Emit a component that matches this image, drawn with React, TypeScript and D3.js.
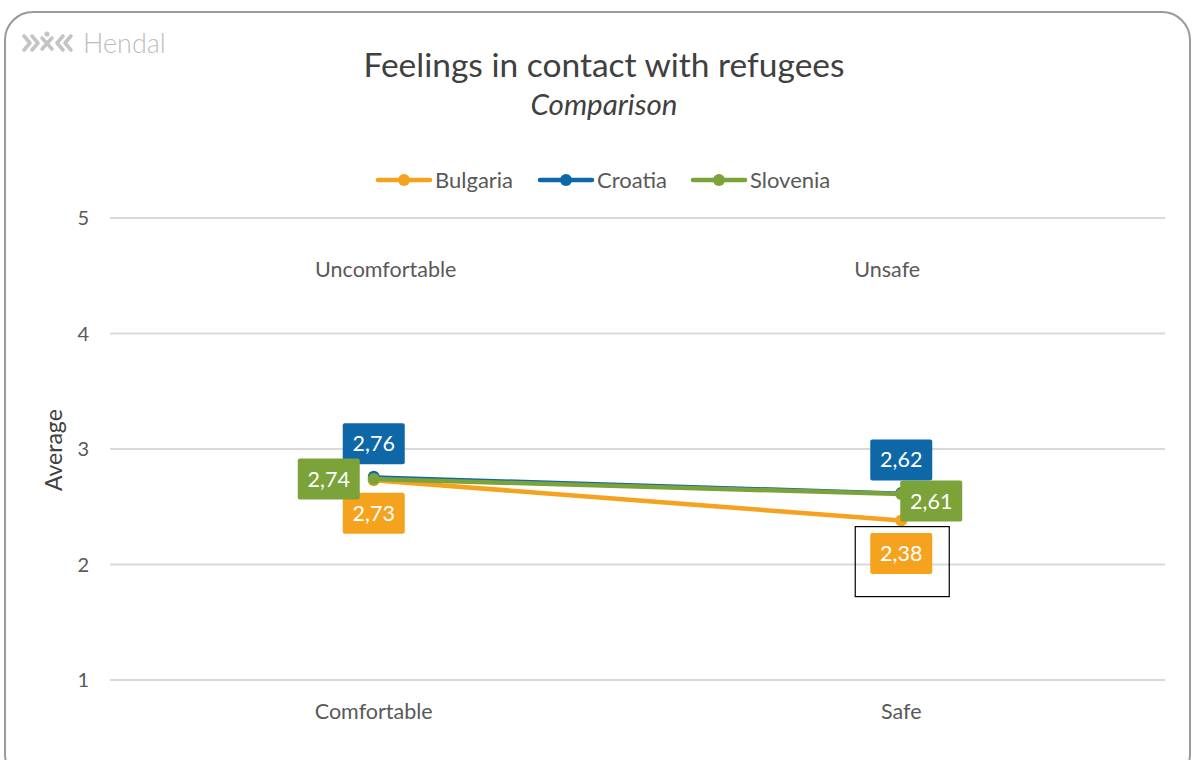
import React from "react";
import * as d3 from "d3";

const categories = ["Comfortable", "Safe"];
const oppositeLabels = ["Uncomfortable", "Unsafe"];
const seriesNames = ["Bulgaria", "Croatia", "Slovenia"];
const bulgaria = [2.73, 2.38];
const croatia = [2.76, 2.62];
const slovenia = [2.74, 2.61];
const yTicks = [1, 2, 3, 4, 5];

const colors: Record<string, string> = {
  Bulgaria: "#F5A31E",
  Croatia: "#0E67A6",
  Slovenia: "#7CA23A",
};
const widths: Record<string, number> = { Bulgaria: 4.5, Croatia: 3, Slovenia: 4.5 };

// label placement per series per category: [dx, dy]
const labelPos: Record<string, [number, number][]> = {
  Bulgaria: [[0, 33], [0, 33]],
  Croatia: [[0, -33], [0, -33]],
  Slovenia: [[-45, 0], [30, 7]],
};

const FONT = "Lato, 'Open Sans', sans-serif";

export default function App() {
  const W = 1192, H = 760;
  const x = d3.scaleBand().domain(categories).range([110, 1165]);
  const y = d3.scaleLinear().domain([1, 5]).range([680, 218]);
  const cx = (c: string) => (x(c) as number) + x.bandwidth() / 2;
  const data: Record<string, number[]> = { Bulgaria: bulgaria, Croatia: croatia, Slovenia: slovenia };
  const line = d3.line<number>().x((_, i) => cx(categories[i])).y((v) => y(v));
  const fmt = (v: number) => v.toFixed(2).replace(".", ",");

  const legendX = [378, 540, 693];
  const drawOrder = ["Croatia", "Bulgaria", "Slovenia"];

  return (
    <svg width={W} height={H} style={{ position: "absolute", left: 0, top: 0, background: "#fff" }}>
      <rect x={5} y={12} width={1185} height={770} rx={28} ry={28} fill="#fff" stroke="#9a9a9a" strokeWidth={2} />
      {/* logo */}
      <g fill="none" stroke="#c4c4c4" strokeWidth={3.6} strokeLinecap="round" strokeLinejoin="round">
        <path d="M24 36 L30 43 L24 50" />
        <path d="M32 36 L38 43 L32 50" />
        <path d="M42 38 L52 49 M52 38 L42 49" />
        <path d="M63 36 L57 43 L63 50" />
        <path d="M71 36 L65 43 L71 50" />
      </g>
      <circle cx={47} cy={34} r={2.6} fill="#c4c4c4" />
      <text x={83} y={53} fontFamily={FONT} fontSize={27} fontWeight={300} fill="#bdbdbd">Hendal</text>

      <text x={604} y={77} textAnchor="middle" fontFamily={FONT} fontSize={33.5} fill="#404040">
        Feelings in contact with refugees
      </text>
      <text x={604} y={115} textAnchor="middle" fontFamily={FONT} fontSize={29.5} fontStyle="italic" fill="#404040">
        Comparison
      </text>

      {/* legend */}
      {seriesNames.map((s, i) => (
        <g key={s}>
          <line x1={legendX[i]} x2={legendX[i] + 52} y1={180} y2={180} stroke={colors[s]} strokeWidth={4.5} strokeLinecap="round" />
          <circle cx={legendX[i] + 26} cy={180} r={6} fill={colors[s]} />
          <text x={legendX[i] + 57} y={187.5} fontFamily={FONT} fontSize={22} fill="#595959">{s}</text>
        </g>
      ))}

      {/* grid */}
      {yTicks.map((t) => (
        <g key={t}>
          <line x1={110} x2={1165} y1={y(t)} y2={y(t)} stroke="#d9d9d9" strokeWidth={2} />
          <text x={89} y={y(t) + 7} textAnchor="end" fontFamily={FONT} fontSize={20} fill="#595959">{t}</text>
        </g>
      ))}
      <text transform={`translate(62,${y(2.99)}) rotate(-90)`} textAnchor="middle" fontFamily={FONT} fontSize={23} fill="#404040">
        Average
      </text>

      {categories.map((c, i) => (
        <g key={c}>
          <text x={cx(c)} y={719} textAnchor="middle" fontFamily={FONT} fontSize={21.5} fill="#595959">{c}</text>
          <text x={cx(c) + (i === 0 ? 12 : -14)} y={277} textAnchor="middle" fontFamily={FONT} fontSize={21.5} fill="#595959">
            {oppositeLabels[i]}
          </text>
        </g>
      ))}

      {/* lines */}
      {drawOrder.map((s) => (
        <g key={s}>
          <path d={line(data[s]) || ""} fill="none" stroke={colors[s]} strokeWidth={widths[s]} strokeLinecap="round" />
          {data[s].map((v, i) => (
            <circle key={i} cx={cx(categories[i])} cy={y(v)} r={6} fill={colors[s]} />
          ))}
        </g>
      ))}

      {/* data labels */}
      {drawOrder.map((s) =>
        data[s].map((v, i) => {
          const [dx, dy] = labelPos[s][i];
          const lx = cx(categories[i]) + dx;
          const ly = y(v) + dy;
          return (
            <g key={s + i}>
              <rect x={lx - 31} y={ly - 20.5} width={62} height={41} rx={2} fill={colors[s]} />
              <text x={lx} y={ly + 7.5} textAnchor="middle" fontFamily={FONT} fontSize={21.5} fill="#fff">{fmt(v)}</text>
            </g>
          );
        })
      )}
      {/* highlight box around Bulgaria Safe label */}
      <rect
        x={cx(categories[1]) - 46}
        y={y(bulgaria[1]) + 6}
        width={94}
        height={70}
        fill="none"
        stroke="#000"
        strokeWidth={1.2}
      />
    </svg>
  );
}
